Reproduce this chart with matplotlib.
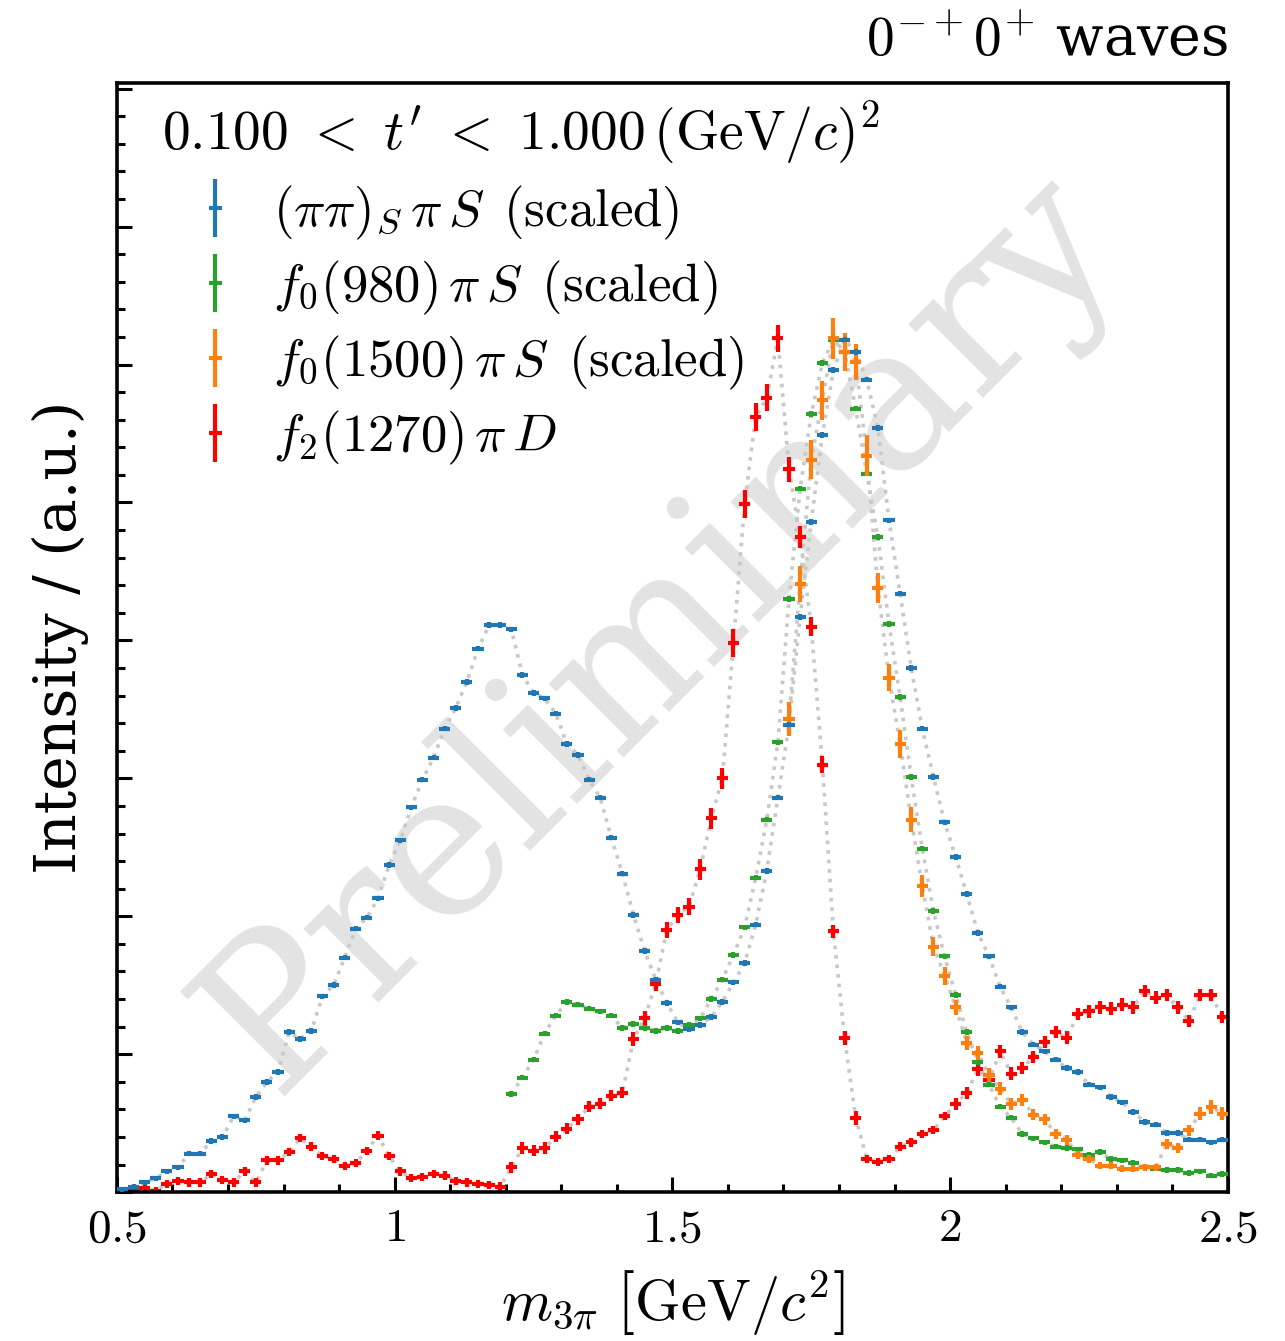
import matplotlib
matplotlib.use("Agg")
import matplotlib.pyplot as plt
from matplotlib.legend_handler import HandlerErrorbar
from matplotlib.ticker import MultipleLocator
import numpy as np

plt.rcParams['font.family'] = 'serif'
plt.rcParams['font.serif'] = ['DejaVu Serif']
plt.rcParams['mathtext.fontset'] = 'cm'

# mass bins (20 MeV), values in arbitrary units (one unit = one major y tick)
bin_width = 0.02

# (pi pi)_S pi S, 0.51 .. 2.49
blue_start = 0.51
blue_y = [0.02, 0.04, 0.07, 0.10, 0.15, 0.18, 0.28, 0.28, 0.37, 0.40,
          0.55, 0.52, 0.69, 0.80, 0.87, 1.16, 1.11, 1.17, 1.42, 1.50,
          1.70, 1.91, 1.99, 2.13, 2.37, 2.55, 2.79, 2.99, 3.15, 3.36,
          3.51, 3.70, 3.94, 4.11, 4.11, 4.08, 3.75, 3.62, 3.58, 3.47,
          3.25, 3.17, 2.99, 2.86, 2.57, 2.31, 2.01, 1.75, 1.54, 1.37,
          1.23, 1.18, 1.21, 1.27, 1.38, 1.52, 1.66, 1.94, 2.33, 2.86,
          3.39, 4.17, 4.86, 5.49, 5.96, 6.18, 6.09, 5.89, 5.54, 4.87,
          4.34, 3.80, 3.36, 3.01, 2.68, 2.43, 2.16, 1.88, 1.71, 1.49,
          1.34, 1.16, 1.07, 1.02, 0.96, 0.90, 0.87, 0.78, 0.76, 0.69,
          0.65, 0.58, 0.51, 0.49, 0.43, 0.43, 0.38, 0.38, 0.36, 0.38]
blue_err = 0.02

# f0(980) pi S, 1.21 .. 2.49
green_start = 1.21
green_y = [0.71, 0.83, 0.96, 1.15, 1.28, 1.38, 1.36, 1.33, 1.31, 1.28,
           1.19, 1.22, 1.19, 1.17, 1.19, 1.17, 1.21, 1.26, 1.40, 1.54,
           1.72, 1.92, 2.28, 2.70, 3.26, 4.30, 5.10, 5.64, 6.01, 6.18,
           6.09, 5.68, 5.21, 4.75, 4.12, 3.59, 3.01, 2.49, 2.04, 1.71,
           1.43, 1.16, 0.94, 0.78, 0.62, 0.54, 0.42, 0.39, 0.36, 0.33,
           0.32, 0.31, 0.27, 0.29, 0.24, 0.23, 0.21, 0.18, 0.17, 0.16,
           0.16, 0.14, 0.15, 0.12, 0.13]
green_err = 0.02

# f0(1500) pi S, 1.71 .. 2.49
orange_start = 1.71
orange_y = [3.43, 4.41, 5.31, 5.74, 6.19, 6.09, 6.02, 5.34, 4.38, 3.73,
            3.25, 2.70, 2.22, 1.78, 1.57, 1.34, 1.08, 1.01, 0.85, 0.75,
            0.64, 0.67, 0.56, 0.53, 0.42, 0.38, 0.27, 0.24, 0.19, 0.19,
            0.17, 0.17, 0.18, 0.18, 0.35, 0.32, 0.45, 0.57, 0.62, 0.57]
orange_err = [0.12, 0.13, 0.14, 0.14, 0.15, 0.14, 0.13, 0.15, 0.11, 0.10,
              0.10, 0.09, 0.08, 0.07, 0.065, 0.055, 0.05, 0.05, 0.05, 0.045,
              0.045, 0.045, 0.04, 0.04, 0.035, 0.035, 0.03, 0.03, 0.025, 0.025,
              0.025, 0.025, 0.025, 0.025, 0.035, 0.035, 0.04, 0.045, 0.05, 0.05]

# f2(1270) pi D, 0.51 .. 2.49
red_start = 0.51
red_y = [0.01, 0.02, 0.03, 0.01, 0.06, 0.08, 0.07, 0.07, 0.13, 0.09,
         0.07, 0.15, 0.07, 0.23, 0.23, 0.29, 0.39, 0.33, 0.26, 0.24,
         0.19, 0.21, 0.30, 0.41, 0.26, 0.15, 0.10, 0.11, 0.13, 0.12,
         0.08, 0.07, 0.06, 0.05, 0.04, 0.18, 0.32, 0.30, 0.32, 0.40,
         0.46, 0.53, 0.62, 0.64, 0.70, 0.72, 1.11, 1.26, 1.51, 1.90,
         2.01, 2.07, 2.34, 2.71, 3.00, 3.98, 4.99, 5.62, 5.76, 6.19,
         5.24, 4.75, 4.10, 3.10, 1.89, 1.12, 0.54, 0.24, 0.22, 0.24,
         0.33, 0.36, 0.42, 0.45, 0.55, 0.64, 0.72, 0.89, 0.81, 1.02,
         0.86, 0.90, 0.98, 1.09, 1.16, 1.12, 1.29, 1.31, 1.34, 1.33,
         1.36, 1.34, 1.46, 1.41, 1.43, 1.34, 1.24, 1.43, 1.43, 1.27]
red_err = ([0.03] * 35 + [0.04] * 11 + [0.05] * 3 + [0.06] * 3 + [0.075] * 3
           + [0.10] * 5 + [0.09, 0.08, 0.07, 0.06] + [0.05] * 3 + [0.03] * 8
           + [0.045] * 25)

labels = [r"$(\pi\pi)_S\,\pi\,S\ \,\mathrm{(scaled)}$",
          r"$f_0(980)\,\pi\,S\ \,\mathrm{(scaled)}$",
          r"$f_0(1500)\,\pi\,S\ \,\mathrm{(scaled)}$",
          r"$f_2(1270)\,\pi\,D$"]
xtick_vals = [0.5, 1.0, 1.5, 2.0, 2.5]
xtick_text = ["$0.5$", "$1$", "$1.5$", "$2$", "$2.5$"]

fig = plt.figure(figsize=(6.425, 6.705), dpi=200)
ax = fig.add_axes([0.091, 0.111, 0.8645, 0.827])

series = [
    (blue_start, blue_y, blue_err, '#1f77b4', labels[0], 5),
    (green_start, green_y, green_err, '#2ca02c', labels[1], 3),
    (orange_start, orange_y, orange_err, '#ff7f0e', labels[2], 4),
    (red_start, red_y, red_err, '#ff0000', labels[3], 2),
]

handles = []
for start, y, err, col, lab, z in series:
    x = start + bin_width * np.arange(len(y))
    ax.plot(x, y, ':', color='#c8c8c8', lw=1.3, zorder=1)
    h = ax.errorbar(x, y, yerr=err, xerr=bin_width / 2, fmt='none',
                    ecolor=col, elinewidth=1.5, capsize=0, label=lab, zorder=z)
    handles.append(h)

ax.text(0.49, 0.505, "Preliminary", transform=ax.transAxes, rotation=45,
        ha='center', va='center', fontsize=73, color='#e3e3e3',
        family='DejaVu Serif', zorder=0)

ax.set_xlim(0.5, 2.5)
ax.set_ylim(0, 8.04)
ax.set_xticks(xtick_vals)
ax.set_xticklabels(xtick_text, fontsize=17)
ax.xaxis.set_minor_locator(MultipleLocator(0.1))
ax.yaxis.set_major_locator(MultipleLocator(1))
ax.yaxis.set_minor_locator(MultipleLocator(0.2))
ax.set_yticklabels([])
ax.tick_params(which='both', direction='in', width=1.1, top=False, right=False)
ax.tick_params(which='major', length=5.5, pad=5)
ax.tick_params(which='minor', length=3)
for sp in ax.spines.values():
    sp.set_linewidth(1.3)

ax.set_xlabel(r"$m_{3\pi}\ \left[\mathrm{GeV}/c^2\right]$", fontsize=21, labelpad=6)
ax.set_ylabel("Intensity / (a.u.)", fontsize=21, labelpad=5)
ax.set_title(r"$0^{-+}0^{+}$ waves", loc='right', fontsize=20, pad=10)

leg = ax.legend(handles=handles, loc='upper left', bbox_to_anchor=(0.022, 1.004),
                frameon=False, fontsize=19,
                title=r"$0.100\ <\ t^{\prime}\ <\ 1.000\,(\mathrm{GeV}/c)^2$",
                title_fontsize=20, handlelength=2.0, handletextpad=0.1,
                labelspacing=0.32, borderaxespad=0.0,
                handler_map={type(handles[0]): HandlerErrorbar(xerr_size=0.12, yerr_size=0.55)})
leg._legend_box.align = 'left'

fig.savefig("out.png", dpi=200)
